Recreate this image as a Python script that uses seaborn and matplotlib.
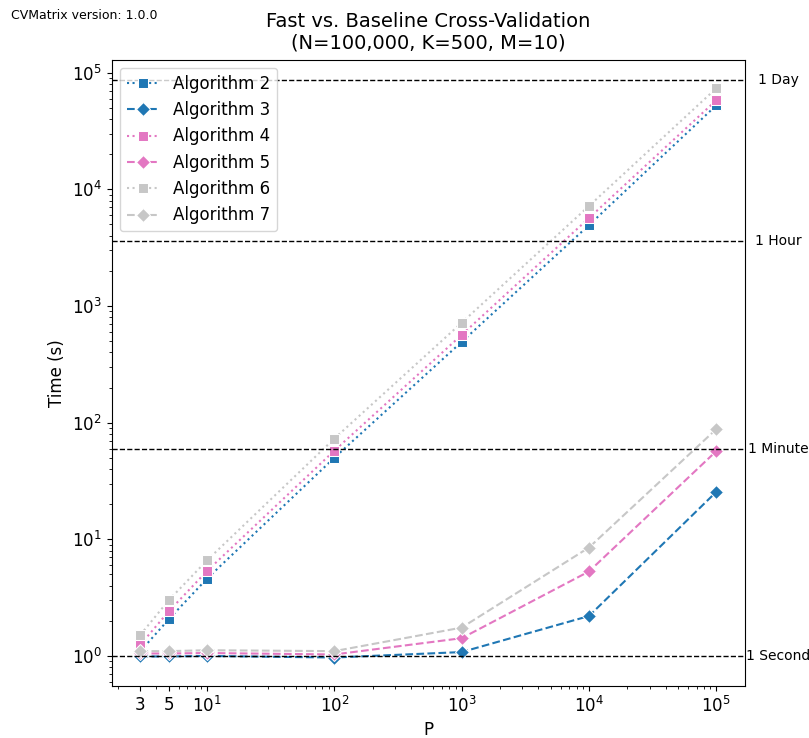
import matplotlib
matplotlib.use('Agg')
import matplotlib.pyplot as plt
import matplotlib.transforms as mtransforms
import seaborn as sns

# Problem sizes (P) and timings in seconds
p_values = [3, 5, 10, 100, 1000, 10000, 100000]

alg2 = [1.1, 2.06, 4.6, 50, 492, 4930, 52500]
alg3 = [0.99, 0.99, 1.0, 0.97, 1.08, 2.2, 25.5]
alg4 = [1.25, 2.41, 5.35, 57.5, 565, 5670, 58000]
alg5 = [1.05, 1.05, 1.06, 1.03, 1.42, 5.3, 57]
alg6 = [1.52, 3.0, 6.6, 73, 718, 7190, 73500]
alg7 = [1.1, 1.1, 1.12, 1.1, 1.75, 8.5, 88]

series_names = ['Algorithm 2', 'Algorithm 3', 'Algorithm 4',
                'Algorithm 5', 'Algorithm 6', 'Algorithm 7']
series_values = [alg2, alg3, alg4, alg5, alg6, alg7]

# Reference time lines
ref_labels = ['1 Second', '1 Minute', '1 Hour', '1 Day']
ref_seconds = [1, 60, 3600, 86400]

blue = '#1f77b4'
pink = '#e377c2'
gray = '#c7c7c7'
colors = [blue, blue, pink, pink, gray, gray]
markers = ['s', 'D', 's', 'D', 's', 'D']
linestyles = [':', '--', ':', '--', ':', '--']

fig = plt.figure(figsize=(8.09, 7.38), dpi=100)
ax = fig.add_axes([0.138, 0.0705, 0.783, 0.8485])

for name, vals, c, m, ls in zip(series_names, series_values, colors, markers, linestyles):
    sns.lineplot(x=p_values, y=vals, ax=ax, color=c, marker=m, linestyle=ls,
                 markersize=7.5, label=name)

ax.set_xscale('log')
ax.set_yscale('log')
ax.set_xticks([3, 5, 10, 100, 1000, 10000, 100000])
ax.set_xticklabels(['3', '5', '$10^{1}$', '$10^{2}$', '$10^{3}$', '$10^{4}$', '$10^{5}$'])
ax.tick_params(axis='both', which='major', labelsize=12)

trans = mtransforms.blended_transform_factory(ax.transAxes, ax.transData)
for lbl, sec in zip(ref_labels, ref_seconds):
    ax.axhline(sec, color='black', linestyle='--', linewidth=1)
    ax.text(1.052, sec, lbl, transform=trans, ha='center', va='center', fontsize=10)

ax.set_xlabel('P', fontsize=12)
ax.set_ylabel('Time (s)', fontsize=12)
ax.set_title('Fast vs. Baseline Cross-Validation\n(N=100,000, K=500, M=10)', fontsize=14, pad=8)
ax.legend(loc='upper left', fontsize=12)

fig.text(0.014, 0.988, 'CVMatrix version: 1.0.0', fontsize=9, ha='left', va='top')

fig.savefig('out.png', dpi=100)
